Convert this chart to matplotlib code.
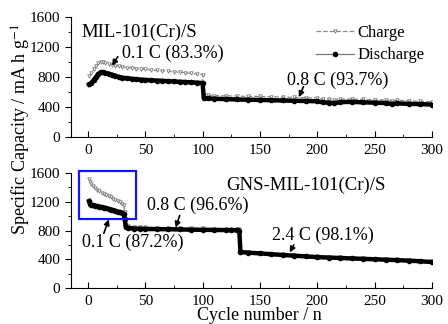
import numpy as np
import matplotlib
matplotlib.use('Agg')
import matplotlib.pyplot as plt
from matplotlib.patches import Rectangle
from matplotlib.lines import Line2D
from matplotlib.ticker import MultipleLocator

plt.rcParams['font.family'] = ['Liberation Serif', 'DejaVu Serif']
plt.rcParams['mathtext.fontset'] = 'stix'

# MIL-101(Cr)/S, 0.1 C then 0.8 C
top_cyc_a = [1, 3, 5, 7, 9, 11, 13, 15, 18, 21, 24, 27, 30, 34, 38, 42, 46, 50,
             55, 60, 65, 70, 75, 80, 85, 90, 95, 100]
top_dis_a = [700, 720, 760, 800, 840, 860, 862, 855, 845, 830, 815, 800, 790, 782,
             776, 770, 765, 760, 756, 752, 748, 744, 740, 736, 732, 728, 724, 720]
top_chg_a = [810, 850, 900, 950, 985, 1000, 1000, 990, 975, 962, 950, 940, 932, 925,
             918, 912, 906, 900, 893, 886, 880, 874, 868, 862, 855, 848, 840, 830]
top_cyc_b = [101, 105, 110, 120, 130, 140, 150, 160, 170, 180, 190, 200, 205, 210,
             215, 220, 230, 240, 250, 260, 265, 270, 280, 290, 300]
top_dis_b = [520, 515, 510, 505, 500, 497, 494, 490, 487, 483, 480, 476, 462, 458,
             452, 465, 468, 462, 458, 452, 440, 448, 442, 438, 432]
top_chg_b = [565, 558, 552, 548, 545, 542, 540, 536, 532, 528, 524, 520, 505, 500,
             498, 505, 506, 502, 498, 494, 482, 490, 482, 476, 470]

# GNS-MIL-101(Cr)/S, 0.1 C, 0.8 C, 2.4 C
bot_cyc_a = [1, 2, 3, 4, 6, 8, 10, 12, 14, 16, 18, 20, 22, 24, 26, 28, 30, 31, 32]
bot_dis_a = [1210, 1170, 1155, 1150, 1145, 1140, 1132, 1125, 1117, 1108, 1100, 1092,
             1083, 1073, 1063, 1053, 1042, 1035, 960]
bot_chg_a = [1520, 1480, 1450, 1420, 1390, 1370, 1345, 1325, 1305, 1290, 1275, 1260,
             1245, 1230, 1215, 1200, 1170, 1150, 1060]
bot_cyc_b = [33, 35, 40, 45, 50, 60, 70, 80, 90, 100, 110, 120, 125, 130, 132]
bot_dis_b = [845, 835, 828, 825, 822, 820, 818, 815, 812, 810, 808, 806, 805, 803, 800]
bot_chg_b = [880, 865, 855, 850, 846, 842, 838, 835, 832, 830, 828, 826, 825, 822, 820]
bot_cyc_c = [133, 140, 150, 160, 170, 180, 190, 200, 210, 220, 230, 240, 250, 260,
             270, 280, 290, 300]
bot_dis_c = [500, 492, 482, 470, 460, 450, 440, 430, 424, 418, 412, 406, 400, 394,
             388, 381, 372, 362]
bot_chg_c = [510, 502, 492, 480, 470, 460, 450, 440, 434, 428, 422, 416, 410, 404,
             398, 391, 382, 372]

fig = plt.figure(figsize=(4.48, 3.24), dpi=100)
ax1 = fig.add_axes([0.158, 0.577, 0.806, 0.371])
ax2 = fig.add_axes([0.158, 0.111, 0.806, 0.355])

def draw(ax, cyc, chg, dis):
    ax.plot(cyc, chg, ls='--', color='#8a8a8a', lw=0.9, marker='v', ms=2.5,
            mfc='white', mec='#7a7a7a', mew=0.6)
    ax.plot(cyc, dis, ls='-', color='black', lw=3.2, marker='o', ms=3,
            mfc='black', mec='black')

draw(ax1, top_cyc_a + top_cyc_b, top_chg_a + top_chg_b, top_dis_a + top_dis_b)
draw(ax2, bot_cyc_a + bot_cyc_b + bot_cyc_c, bot_chg_a + bot_chg_b + bot_chg_c,
     bot_dis_a + bot_dis_b + bot_dis_c)

for ax in (ax1, ax2):
    ax.set_xlim(-15, 300)
    ax.set_ylim(0, 1600)
    for s in ('top', 'right'):
        ax.spines[s].set_visible(False)
    ax.spines['left'].set_linewidth(0.8)
    ax.spines['bottom'].set_linewidth(0.8)
    ax.xaxis.set_major_locator(MultipleLocator(50))
    ax.xaxis.set_minor_locator(MultipleLocator(25))
    ax.yaxis.set_major_locator(MultipleLocator(400))
    ax.yaxis.set_minor_locator(MultipleLocator(200))
    ax.tick_params(axis='x', which='both', direction='in', labelsize=11, pad=5)
    ax.tick_params(axis='x', which='major', length=4)
    ax.tick_params(axis='x', which='minor', length=2.5)
    ax.tick_params(axis='y', which='both', direction='out', labelsize=11)
    ax.tick_params(axis='y', which='major', length=4)
    ax.tick_params(axis='y', which='minor', length=2.5)

arr = dict(arrowstyle='-|>', color='black', lw=1.2, mutation_scale=8,
           shrinkA=0, shrinkB=0)

def arrow(ax, tail, head):
    ax.annotate('', xy=head, xytext=tail, arrowprops=arr)

# top panel texts
ax1.text(-6, 1400, 'MIL-101(Cr)/S', fontsize=13.5, ha='left', va='center')
ax1.text(29.5, 1120, '0.1 C (83.3%)', fontsize=13, ha='left', va='center')
arrow(ax1, (26, 1070), (21, 950))
ax1.text(173.5, 760, '0.8 C (93.7%)', fontsize=13, ha='left', va='center')
arrow(ax1, (188, 670), (184, 530))

h_chg = Line2D([], [], ls='--', color='#8a8a8a', lw=0.9, marker='v', ms=2.5,
               mfc='white', mec='#7a7a7a', mew=0.6)
h_dis = Line2D([], [], ls='-', color='#7a7a7a', lw=0.9, marker='o', ms=3,
               mfc='black', mec='black')
ax1.legend([h_chg, h_dis], ['Charge', 'Discharge'], loc='upper left',
           bbox_to_anchor=(0.66, 0.99), frameon=False, fontsize=12,
           handlelength=2.3, handletextpad=0.2, labelspacing=0.4,
           borderaxespad=0, numpoints=1)

# bottom panel texts
ax2.text(121, 1434, 'GNS-MIL-101(Cr)/S', fontsize=13.5, ha='left', va='center')
ax2.text(51.3, 1145, '0.8 C (96.6%)', fontsize=13, ha='left', va='center')
arrow(ax2, (80, 1010), (76.5, 840))
ax2.text(-5.4, 634, '0.1 C (87.2%)', fontsize=13, ha='left', va='center')
arrow(ax2, (13.8, 760), (18.2, 955))
ax2.text(160.4, 731, '2.4 C (98.1%)', fontsize=13, ha='left', va='center')
arrow(ax2, (179.6, 600), (176, 495))
ax2.add_patch(Rectangle((-8, 965), 49.7, 662, fill=False, edgecolor='#1414ff',
                        lw=1.6, clip_on=False, zorder=5))

fig.text(0.047, 0.6, 'Specific Capacity / mA h g$^{-1}$', rotation=90,
         ha='center', va='center', fontsize=13)
fig.text(0.578, 0.027, 'Cycle number / n', ha='center', va='center', fontsize=13)

fig.savefig('out.png', dpi=100)
